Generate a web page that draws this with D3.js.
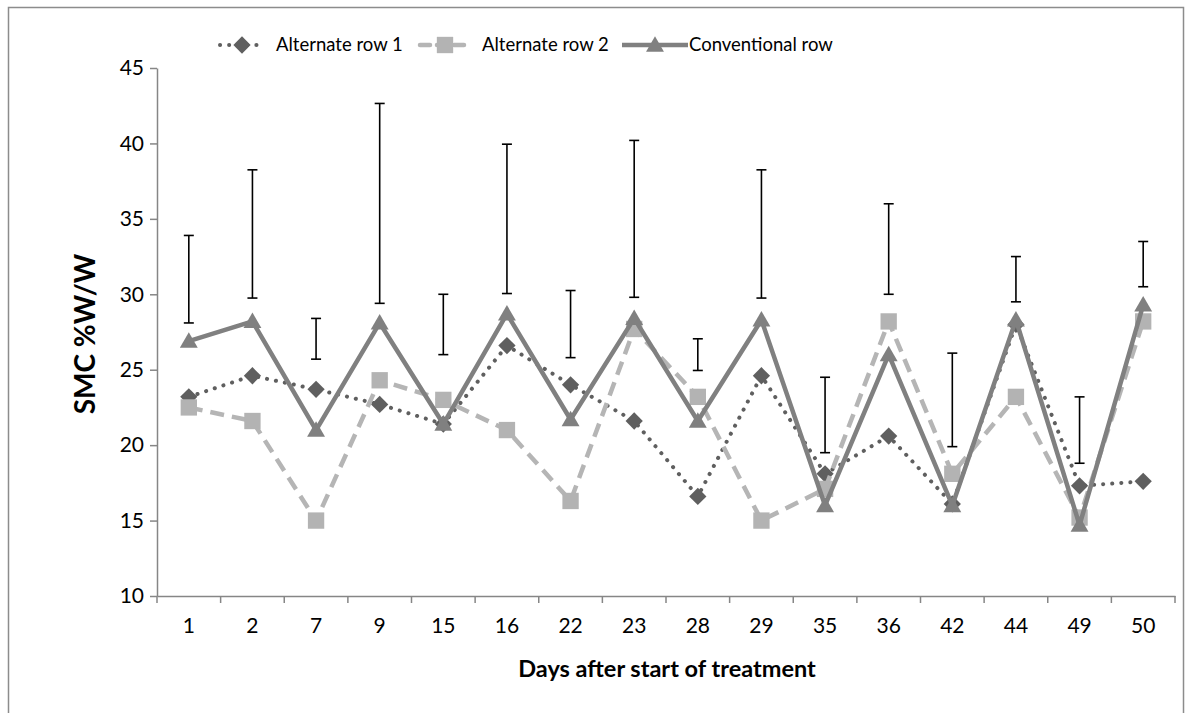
<!DOCTYPE html>
<html><head><meta charset="utf-8">
<script src="https://cdn.jsdelivr.net/npm/d3@7"></script>
<style>
html,body{margin:0;padding:0;background:#fff;}
svg{display:block;font-family:Lato,"Open Sans",sans-serif;}
</style></head>
<body><svg id="c" width="1191" height="713"></svg>
<script>
const categories = ["1","2","7","9","15","16","22","23","28","29","35","36","42","44","49","50"];
const alternateRow1 = [23.2,24.6,23.7,22.7,21.4,26.6,24.0,21.6,16.6,24.6,18.1,20.6,16.1,28.0,17.3,17.6];
const alternateRow2 = [22.5,21.6,15.0,24.3,23.0,21.0,16.3,27.7,23.2,15.0,17.1,28.2,18.1,23.2,15.2,28.2];
const conventionalRow = [26.9,28.2,21.0,28.1,21.4,28.7,21.7,28.4,21.6,28.3,16.0,26.0,16.0,28.3,14.7,29.3];
const errorLow = [28.1,29.75,25.7,29.4,26.0,30.05,25.8,29.8,24.95,29.75,19.5,30.0,19.9,29.5,18.8,30.5];
const errorHigh = [33.9,38.25,28.4,42.65,30.0,39.95,30.25,40.2,27.05,38.25,24.5,36.0,26.1,32.5,23.2,33.5];
const yTicks = [10,15,20,25,30,35,40,45];
const seriesNames = ["Alternate row 1","Alternate row 2","Conventional row"];

const svg = d3.select("#c");
const axisColor = "#868686";

// chart border
svg.append("rect").attr("x",8.5).attr("y",7.5).attr("width",1175).attr("height",730)
  .attr("fill","none").attr("stroke","#8c8c8c").attr("stroke-width",1.5);

const x = d3.scaleBand().domain(categories).range([157,1175]);
const y = d3.scaleLinear().domain([10,45]).range([596,68]);
const cx = c => x(c) + x.bandwidth()/2;

// y axis
const ya = svg.append("g").attr("transform","translate(157,0)")
  .call(d3.axisLeft(y).tickValues(yTicks).tickSize(7).tickSizeOuter(0).tickPadding(6));
ya.select(".domain").attr("stroke",axisColor).attr("stroke-width",1.5);
ya.selectAll(".tick line").attr("stroke",axisColor).attr("stroke-width",1.5);
ya.selectAll(".tick text").attr("font-family","Lato").attr("font-size",21).attr("fill","#000");

// x axis
const xa = svg.append("g").attr("transform","translate(0,596)")
  .call(d3.axisBottom(x).tickSize(0).tickPadding(22));
xa.select(".domain").attr("stroke",axisColor).attr("stroke-width",1.5);
xa.selectAll(".tick text").attr("font-family","Lato").attr("font-size",21).attr("fill","#000");
const bounds = categories.map(c => x(c)).concat([x.range()[1]]);
svg.append("g").selectAll("line").data(bounds).join("line")
  .attr("x1",d=>d).attr("x2",d=>d).attr("y1",596).attr("y2",603)
  .attr("stroke",axisColor).attr("stroke-width",1.5);

// axis titles
svg.append("text").attr("x",667).attr("y",677).attr("text-anchor","middle")
  .attr("font-family","Lato").attr("font-weight","bold").attr("font-size",23.5)
  .text("Days after start of treatment");
svg.append("text").attr("transform","translate(95,334) rotate(-90)").attr("text-anchor","middle")
  .attr("font-family","Lato").attr("font-weight","bold").attr("font-size",28)
  .text("SMC %W/W");

const styles = [
  {color:"#5f5f5f", width:4, dash:"0.1 9", cap:"round", symbol:d3.symbolDiamond2, size:190, mcolor:"#5f5f5f"},
  {color:"#b5b5b5", width:4.5, dash:"14 8", cap:"butt", symbol:d3.symbolSquare2, size:340, mcolor:"#b3b3b3"},
  {color:"#808080", width:4.5, dash:null, cap:"butt", symbol:d3.symbolTriangle2, size:230, mcolor:"#808080"}
];
const allSeries = [alternateRow1, alternateRow2, conventionalRow];

const line = d3.line().x((d,i)=>cx(categories[i])).y(d=>y(d));
const markerPath = st => d3.symbol(st.symbol, st.size)();

allSeries.forEach((vals, si) => {
  const st = styles[si];
  const g = svg.append("g");
  g.append("path").datum(vals).attr("d",line).attr("fill","none")
    .attr("stroke",st.color).attr("stroke-width",st.width)
    .attr("stroke-dasharray",st.dash).attr("stroke-linecap",st.cap).attr("stroke-linejoin","round");
  g.selectAll("path.m").data(vals).join("path").attr("class","m")
    .attr("transform",(d,i)=>`translate(${cx(categories[i])},${y(d)+(si===2?1.5:0)})`)
    .attr("d",markerPath(st)).attr("fill",st.mcolor);
});

// error bars
const eg = svg.append("g").attr("stroke","#000").attr("stroke-width",1.6);
categories.forEach((c,i) => {
  const xc = cx(c);
  eg.append("line").attr("x1",xc).attr("x2",xc).attr("y1",y(errorLow[i])).attr("y2",y(errorHigh[i]));
  eg.append("line").attr("x1",xc-5).attr("x2",xc+5).attr("y1",y(errorLow[i])).attr("y2",y(errorLow[i]));
  eg.append("line").attr("x1",xc-5).attr("x2",xc+5).attr("y1",y(errorHigh[i])).attr("y2",y(errorHigh[i]));
});

// legend
const legendItems = [
  {x0:220, x1:264, tx:276},
  {x0:420, x1:470, tx:482},
  {x0:622, x1:688, tx:689}
];
const ly = 45;
legendItems.forEach((li, si) => {
  const st = styles[si];
  const g = svg.append("g");
  g.append("line").attr("x1",li.x0).attr("x2",li.x1).attr("y1",ly).attr("y2",ly)
    .attr("stroke",st.color).attr("stroke-width",st.width)
    .attr("stroke-dasharray",si===1?"10 7":st.dash).attr("stroke-linecap",si===1?"round":st.cap);
  g.append("path").attr("transform",`translate(${(li.x0+li.x1)/2},${ly+(si===2?1.5:0)})`)
    .attr("d",markerPath(st)).attr("fill",st.mcolor);
  g.append("text").attr("x",li.tx).attr("y",ly).attr("dy","0.35em")
    .attr("font-family","Lato").attr("font-size",18.5).text(seriesNames[si]);
});
</script></body></html>
